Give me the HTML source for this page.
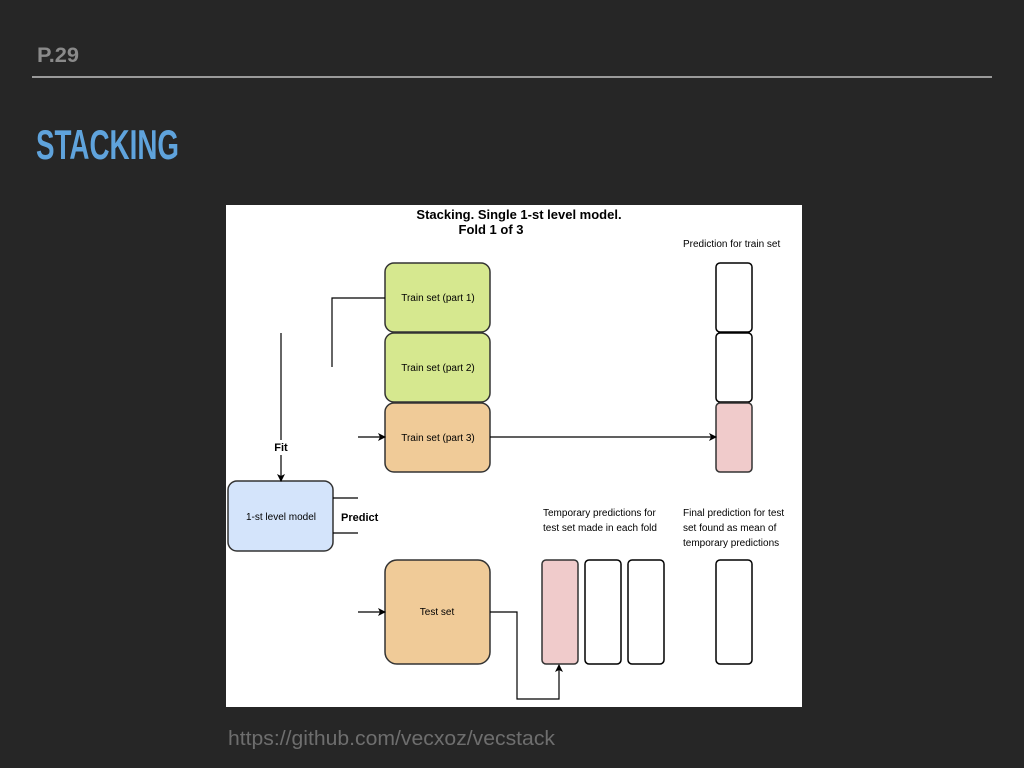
<!DOCTYPE html>
<html><head><meta charset="utf-8"><style>
html,body{margin:0;padding:0;background:#262626;}
svg{display:block}
</style></head><body>
<svg width="1024" height="768" viewBox="0 0 1024 768" xmlns="http://www.w3.org/2000/svg" font-family="Liberation Sans, Arial, sans-serif">
<defs>
<marker id="a" markerWidth="8" markerHeight="8" refX="7" refY="4" orient="auto" markerUnits="userSpaceOnUse">
<path d="M0,0 L8,4 L0,8 L2,4 Z" fill="#000"/>
</marker>
</defs>
<rect width="1024" height="768" fill="#262626"/>
<text x="37" y="62" font-size="21" font-weight="bold" fill="#8a8a8a" textLength="42" lengthAdjust="spacingAndGlyphs">P.29</text>
<rect x="32" y="76" width="960" height="2" fill="#9a9a9a"/>
<text x="36" y="159" font-size="42" font-weight="bold" fill="#5fa3dc" textLength="143" lengthAdjust="spacingAndGlyphs">STACKING</text>
<text x="228" y="745" font-size="20" fill="#6e6e6e" textLength="327" lengthAdjust="spacingAndGlyphs">https://github.com/vecxoz/vecstack</text>

<rect x="226" y="205" width="576" height="502" fill="#fff"/>
<g font-size="13" font-weight="bold" text-anchor="middle" fill="#000">
<text x="519" y="219">Stacking. Single 1-st level model.</text>
<text x="491" y="234">Fold 1 of 3</text>
</g>
<g font-size="10" fill="#000">
<text x="683" y="247">Prediction for train set</text>
<text x="543" y="516">Temporary predictions for</text>
<text x="543" y="531">test set made in each fold</text>
<text x="683" y="516">Final prediction for test</text>
<text x="683" y="531">set found as mean of</text>
<text x="683" y="546">temporary predictions</text>
</g>
<g stroke="#333" stroke-width="1.5">
<rect x="385" y="263" width="105" height="69" rx="9" fill="#d6e88f"/>
<rect x="385" y="333" width="105" height="69" rx="9" fill="#d6e88f"/>
<rect x="385" y="403" width="105" height="69" rx="9" fill="#f0cb98"/>
<rect x="228" y="481" width="105" height="70" rx="9" fill="#d4e4fb"/>
<rect x="385" y="560" width="105" height="104" rx="12" fill="#f0cb98"/>
</g>
<g stroke="#000" stroke-width="1.5" fill="#fff">
<rect x="716" y="263" width="36" height="69" rx="4"/>
<rect x="716" y="333" width="36" height="69" rx="4"/>
<rect x="716" y="403" width="36" height="69" rx="4" fill="#f0cbcb" stroke="#333"/>
<rect x="542" y="560" width="36" height="104" rx="4" fill="#f0cbcb" stroke="#333"/>
<rect x="585" y="560" width="36" height="104" rx="4"/>
<rect x="628" y="560" width="36" height="104" rx="4"/>
<rect x="716" y="560" width="36" height="104" rx="4"/>
</g>
<g font-size="10" text-anchor="middle" fill="#000">
<text x="438" y="301">Train set (part 1)</text>
<text x="438" y="371">Train set (part 2)</text>
<text x="438" y="441">Train set (part 3)</text>
<text x="281" y="520">1-st level model</text>
<text x="437" y="615">Test set</text>
</g>
<g stroke="#000" stroke-width="1.2" fill="none">
<polyline points="385,298 332,298 332,367"/>
<line x1="281" y1="333" x2="281" y2="440"/>
<line x1="281" y1="455" x2="281" y2="481" marker-end="url(#a)"/>
<line x1="333" y1="498" x2="358" y2="498"/>
<line x1="333" y1="533" x2="358" y2="533"/>
<line x1="358" y1="437" x2="385" y2="437" marker-end="url(#a)"/>
<line x1="490" y1="437" x2="716" y2="437" marker-end="url(#a)"/>
<line x1="358" y1="612" x2="385" y2="612" marker-end="url(#a)"/>
<polyline points="490,612 517,612 517,699 559,699 559,665" marker-end="url(#a)"/>
</g>
<g font-size="11" font-weight="bold" fill="#000">
<text x="281" y="451" text-anchor="middle">Fit</text>
<text x="341" y="521">Predict</text>
</g>
</svg>
</body></html>
